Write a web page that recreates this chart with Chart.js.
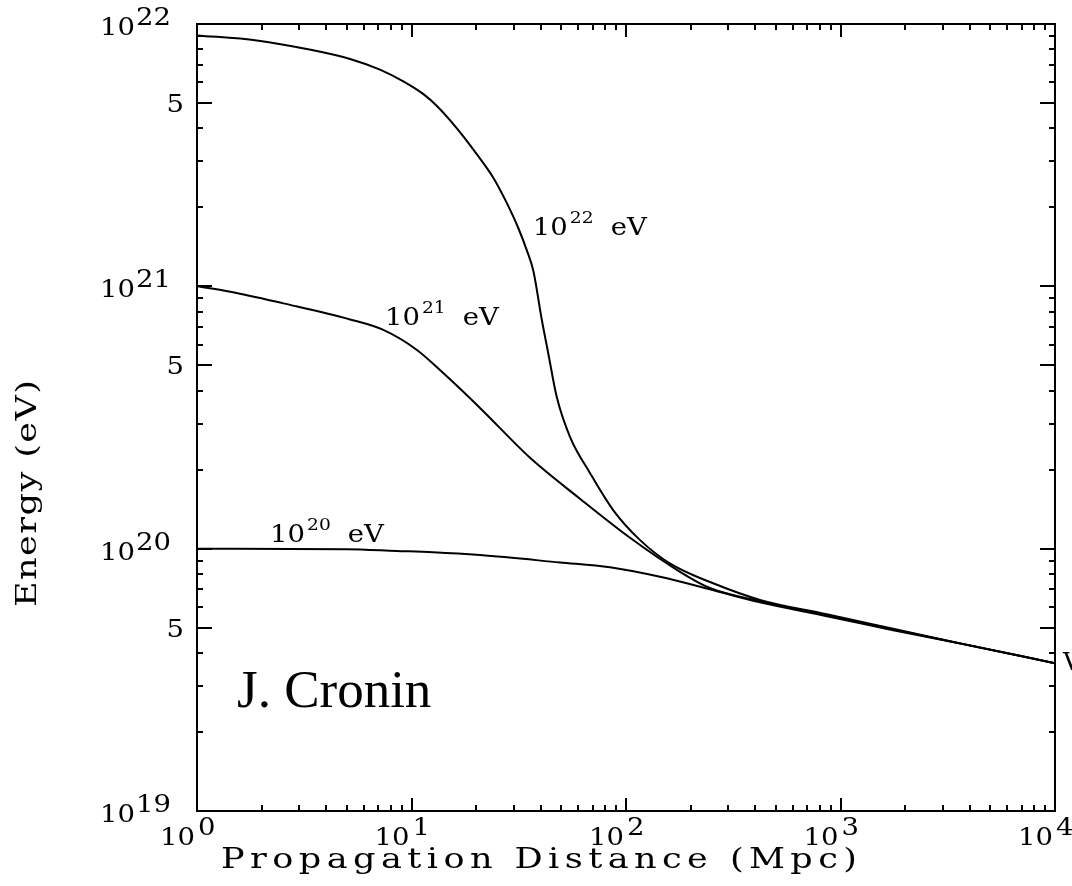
<!DOCTYPE html>
<html>
<head>
<meta charset="utf-8">
<script src="https://cdn.jsdelivr.net/npm/chart.js@4.4.0/dist/chart.umd.min.js"></script>
<style>
  html, body { margin: 0; padding: 0; background: #fff; }
  canvas { display: block; }
</style>
</head>
<body>
<canvas id="c" width="1072" height="886"></canvas>
<script>
// Energy of a proton versus propagation distance, for three injection energies.
const distance22 = [1, 1.9, 3.25, 5.17, 7.13, 9.16, 11.4, 13.1, 16.2, 20.1, 24.1, 27.8, 31.5, 34.55, 37.0, 40.5, 43.4, 47.5, 54.8, 68.0, 87.3, 116, 160, 255, 421, 863, 1760, 3610, 10000];
const energy22   = [9.05e21, 8.66e21, 8.03e21, 7.36e21, 6.70e21, 6.04e21, 5.39e21, 4.88e21, 4.02e21, 3.20e21, 2.59e21, 2.08e21, 1.665e21, 1.366e21, 1.144e21, 7.46e20, 5.56e20, 3.80e20, 2.67e20, 1.94e20, 1.40e20, 1.08e20, 8.79e19, 7.38e19, 6.38e19, 5.62e19, 4.95e19, 4.355e19, 3.66e19];

const distance21 = [1, 1.43, 2.53, 5.17, 7.39, 10.6, 14.1, 20.86, 35.7, 61.0, 104.4, 178.5, 246, 421, 863, 1760, 3610, 10000];
const energy21   = [1.0e21, 9.54e20, 8.61e20, 7.48e20, 6.82e20, 5.72e20, 4.66e20, 3.44e20, 2.22e20, 1.55e20, 1.10e20, 8.16e19, 7.08e19, 6.30e19, 5.58e19, 4.92e19, 4.355e19, 3.66e19];

const distance20 = [1, 4.99, 8.53, 12.6, 20.9, 49.2, 84.2, 144, 246, 421, 863, 1760, 3610, 10000];
const energy20   = [1.0e20, 9.95e19, 9.8e19, 9.69e19, 9.45e19, 8.86e19, 8.49e19, 7.81e19, 7.00e19, 6.24e19, 5.53e19, 4.89e19, 4.35e19, 3.66e19];

// Axis ticks: decade exponents and the "5" labels on the energy axis
const xDecades = [0, 1, 2, 3, 4];
const yDecades = [19, 20, 21, 22];
const yFives = [5e19, 5e20, 5e21];

const xTitle = 'Propagation Distance (Mpc)';
const yTitle = 'Energy (eV)';
const curveNames = ['22', '21', '20'];
const credit = 'J. Cronin';

// Where each curve name sits, in data coordinates (left edge, baseline)
const curveLabelAnchors = {
  '22': { x: 36.8, y: 1.57e21 },
  '21': { x: 7.52, y: 7.12e20 },
  '20': { x: 2.19, y: 1.06e20 }
};

const SERIF = '"DejaVu Serif", serif';
const LABEL_STRETCH = 1.1;

function toPoints(xs, ys) { return xs.map((x, i) => ({ x: x, y: ys[i] })); }

function curve(xs, ys) {
  return {
    data: toPoints(xs, ys),
    showLine: true,
    borderColor: '#000',
    borderWidth: 2,
    pointRadius: 0,
    cubicInterpolationMode: 'monotone',
    fill: false
  };
}

// Text widened horizontally by sx; align is 'left' or 'right'. Returns drawn width.
function wideText(ctx, text, x, baseline, align, sx) {
  const w = ctx.measureText(text).width * sx;
  const left = align === 'right' ? x - w : x;
  ctx.save();
  ctx.textAlign = 'left';
  ctx.translate(left, baseline);
  ctx.scale(sx, 1);
  ctx.fillText(text, 0, 0);
  ctx.restore();
  return w;
}

// Text widened by sx and spaced so that it spans the given width
function drawSpread(ctx, text, left, baseline, width, sx) {
  const chars = Array.from(text);
  const widths = chars.map(ch => ctx.measureText(ch).width);
  const total = widths.reduce((a, b) => a + b, 0) * sx;
  const gap = chars.length > 1 ? (width - total) / (chars.length - 1) : 0;
  ctx.save();
  ctx.textAlign = 'left';
  ctx.translate(left, baseline);
  ctx.scale(sx, 1);
  let x = 0;
  chars.forEach((ch, i) => {
    ctx.fillText(ch, x, 0);
    x += widths[i] + gap / sx;
  });
  ctx.restore();
}

const framePlugin = {
  id: 'frame',
  afterDraw(chart) {
    const ctx = chart.ctx;
    const a = chart.chartArea;
    const xs = chart.scales.x;
    const ys = chart.scales.y;
    const MAJOR = 13, MINOR = 6;
    ctx.save();
    ctx.strokeStyle = '#000';
    ctx.fillStyle = '#000';
    ctx.textBaseline = 'alphabetic';

    // ticks on all four sides, pointing inwards
    ctx.lineWidth = 2;
    ctx.beginPath();
    for (let k = xDecades[0]; k <= xDecades[xDecades.length - 1]; k++) {
      for (let m = 1; m <= 9; m++) {
        const v = m * Math.pow(10, k);
        if (v > xs.max * 1.0001) break;
        const px = Math.round(xs.getPixelForValue(v));
        const len = m === 1 ? MAJOR : MINOR;
        ctx.moveTo(px, a.bottom); ctx.lineTo(px, a.bottom - len);
        ctx.moveTo(px, a.top); ctx.lineTo(px, a.top + len);
      }
    }
    for (let k = yDecades[0]; k <= yDecades[yDecades.length - 1]; k++) {
      for (let m = 1; m <= 9; m++) {
        const v = m * Math.pow(10, k);
        if (v > ys.max * 1.0001) break;
        const py = Math.round(ys.getPixelForValue(v));
        const len = (m === 1 || m === 5) ? MAJOR + 2 : MINOR;
        ctx.moveTo(a.left, py); ctx.lineTo(a.left + len, py);
        ctx.moveTo(a.right, py); ctx.lineTo(a.right - len, py);
      }
    }
    ctx.stroke();

    // frame
    ctx.strokeRect(a.left, a.top, a.right - a.left, a.bottom - a.top);

    // x tick labels: 10 with raised exponent
    ctx.font = '25px ' + SERIF;
    xDecades.forEach(e => {
      const px = xs.getPixelForValue(Math.pow(10, e));
      wideText(ctx, '10', px - 2, a.bottom + 34, 'right', LABEL_STRETCH);
      wideText(ctx, String(e), px + 1, a.bottom + 24, 'left', LABEL_STRETCH);
    });

    // y tick labels
    yDecades.forEach(e => {
      const py = ys.getPixelForValue(Math.pow(10, e));
      const ew = wideText(ctx, String(e), 171, py + 1, 'right', LABEL_STRETCH);
      wideText(ctx, '10', 171 - ew - 1, py + 11, 'right', LABEL_STRETCH);
    });
    yFives.forEach(v => {
      const py = ys.getPixelForValue(v);
      wideText(ctx, '5', 184, py + 9, 'right', LABEL_STRETCH);
    });

    // curve names
    curveNames.forEach(n => {
      const anc = curveLabelAnchors[n];
      const px = xs.getPixelForValue(anc.x);
      const py = ys.getPixelForValue(anc.y);
      ctx.font = '25px ' + SERIF;
      const w10 = wideText(ctx, '10', px, py, 'left', LABEL_STRETCH);
      ctx.font = '17px ' + SERIF;
      const wn = wideText(ctx, n, px + w10 + 2, py - 12, 'left', LABEL_STRETCH);
      ctx.font = '25px ' + SERIF;
      wideText(ctx, 'eV', px + w10 + wn + 19, py, 'left', LABEL_STRETCH);
    });

    // axis titles
    ctx.font = '27px ' + SERIF;
    drawSpread(ctx, xTitle, 221, 868, 636, 1.3);
    ctx.save();
    ctx.translate(36, 607);
    ctx.rotate(-Math.PI / 2);
    drawSpread(ctx, yTitle, 0, 0, 227, 1.3);
    ctx.restore();

    // credit
    ctx.font = '53px "Liberation Serif", "Times New Roman", serif';
    ctx.textAlign = 'left';
    ctx.fillText(credit, 237, 707);

    // fragment at the right edge
    ctx.font = '25px ' + SERIF;
    ctx.fillText('V', 1063, 670);

    ctx.restore();
  }
};

new Chart(document.getElementById('c'), {
  type: 'scatter',
  data: {
    datasets: [
      curve(distance22, energy22),
      curve(distance21, energy21),
      curve(distance20, energy20)
    ]
  },
  options: {
    responsive: false,
    animation: false,
    devicePixelRatio: 1,
    layout: { padding: { left: 197, right: 17, top: 24, bottom: 75 } },
    plugins: { legend: { display: false }, tooltip: { enabled: false } },
    scales: {
      x: { type: 'logarithmic', min: 1, max: 1e4, display: false },
      y: { type: 'logarithmic', min: 1e19, max: 1e22, display: false }
    }
  },
  plugins: [framePlugin]
});
</script>
</body>
</html>
